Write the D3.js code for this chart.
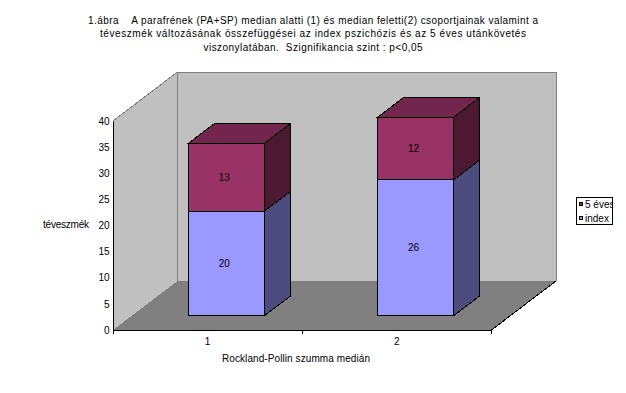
<!DOCTYPE html>
<html><head><meta charset="utf-8">
<script src="https://cdn.jsdelivr.net/npm/d3@7/dist/d3.min.js"></script>
<style>html,body{margin:0;padding:0;background:#fff}svg{display:block}text{font-family:"Liberation Sans",Arial,sans-serif;font-size:10px;fill:#000}polygon,line,rect{shape-rendering:crispEdges}</style>
</head><body><svg id="c" width="626" height="393"></svg>
<script>
const categories=["1","2"];
const seriesNames=["index","5 éves"];
const indexValues=[20,26];
const fiveYearValues=[13,12];
const yTicks=[0,5,10,15,20,25,30,35,40];
const titleLines=["1.ábra    A parafrének (PA+SP) median alatti (1) és median feletti(2) csoportjainak valamint a","téveszmék változásának összefüggései az index pszichózis és az 5 éves utánkövetés","viszonylatában.  Szignifikancia szint : p<0,05"];
const titleLen=[450,426,219];
const colors={"index":{f:"#9999ff",s:"#4c4c7f",t:"#7373bf"},"5 éves":{f:"#993366",s:"#4c1933",t:"#73264d"}};

const svg=d3.select("#c");
const y=d3.scaleLinear().domain([0,40]).range([330,121]);
const x=d3.scaleBand().domain(categories).range([113,491.5]).paddingInner(0).paddingOuter(0);
const depth=d3.scaleLinear().domain([0,1]).range([0,64.5]);
const depthY=d3.scaleLinear().domain([0,1]).range([0,-49]);
const barW=76, z0=0.29, z1=0.69;
const poly=(pts,fill,stroke,w)=>svg.append("polygon").attr("points",pts.map(p=>p.join(",")).join(" ")).attr("fill",fill).attr("stroke",stroke||"none").attr("stroke-width",w||1);
const P=(px,v,z)=>[px+depth(z),y(v)+depthY(z)];

// walls
const xL=x.range()[0], xR=x.range()[1];
poly([P(xL,0,0),P(xL,40,0),P(xL,40,1),P(xL,0,1)],"#c0c0c0");
poly([P(xL,0,1),P(xL,40,1),P(xR,40,1),P(xR,0,1)],"#c0c0c0");
poly([P(xL,0,0),P(xL,0,1),P(xR,0,1),P(xR,0,0)],"#808080");
const ln=(a,b,c)=>svg.append("line").attr("x1",a[0]).attr("y1",a[1]).attr("x2",b[0]).attr("y2",b[1]).attr("stroke",c).attr("stroke-width",1);
ln(P(xL,40,0),P(xL,40,1),"#808080");
ln(P(xL,40,1),P(xR,40,1),"#808080");
ln(P(xR,40,1),P(xR,0,1),"#808080");
ln(P(xL,40,1),P(xL,0,1),"#808080");
ln(P(xR,0,0),P(xR,0,1),"#000");

// axes
const gy=svg.append("g").attr("transform",`translate(${xL},0)`).call(d3.axisLeft(y).tickValues(yTicks).tickSize(0).tickPadding(3.5));
gy.select(".domain").attr("stroke","#000");
gy.selectAll("text").style("font-size","10px");
const gx=svg.append("g").attr("transform","translate(0,330)").call(d3.axisBottom(x).tickSize(0).tickPadding(8));
gx.select(".domain").attr("stroke","#000");
gx.selectAll("text").style("font-size","10px").attr("font-family","Liberation Sans");
[xL,(xL+xR)/2,xR].forEach(t=>ln([t,330],[t,334],"#000"));

// bars
categories.forEach((c,i)=>{
  const L=x(c)+(x.bandwidth()-barW)/2, R=L+barW;
  let base=0;
  [[seriesNames[0],indexValues[i]],[seriesNames[1],fiveYearValues[i]]].forEach(([n,v],k)=>{
    const top=base+v, col=colors[n];
    poly([P(R,base,z0),P(R,top,z0),P(R,top,z1),P(R,base,z1)],col.s,"#000");
    if(k===1) poly([P(L,top,z0),P(L,top,z1),P(R,top,z1),P(R,top,z0)],col.t,"#000");
    poly([P(L,base,z0),P(L,top,z0),P(R,top,z0),P(R,base,z0)],col.f,"#000");
    const m=P((L+R)/2,base+v*0.5,z0);
    svg.append("text").attr("x",m[0]-2).attr("y",m[1]+3.5).attr("text-anchor","middle").text(v);
    base=top;
  });
});

// titles
titleLines.forEach((t,i)=>svg.append("text").style("white-space","pre").attr("x",313).attr("y",24+i*13.3).attr("text-anchor","middle").attr("textLength",titleLen[i]).text(t));
svg.append("text").attr("x",43).attr("y",228).attr("textLength",46).text("téveszmék");
svg.append("text").attr("x",296).attr("y",362).attr("text-anchor","middle").attr("textLength",148).text("Rockland-Pollin szumma medián");

// legend
svg.append("defs").append("clipPath").attr("id","lg").append("rect").attr("x",577).attr("y",198).attr("width",36).attr("height",26);
svg.append("rect").attr("x",576.5).attr("y",197.5).attr("width",36).attr("height",27).attr("fill","#fff").attr("stroke","#000");
const lg=svg.append("g").attr("clip-path","url(#lg)");
[seriesNames[1],seriesNames[0]].forEach((n,i)=>{
  const yy=202.5+i*14;
  lg.append("rect").attr("x",579.5).attr("y",yy).attr("width",3).attr("height",3).attr("fill",colors[n].f).attr("stroke","#000").attr("stroke-width",1);
  lg.append("text").attr("x",585).attr("y",yy+5).text(n);
});
</script></body></html>
